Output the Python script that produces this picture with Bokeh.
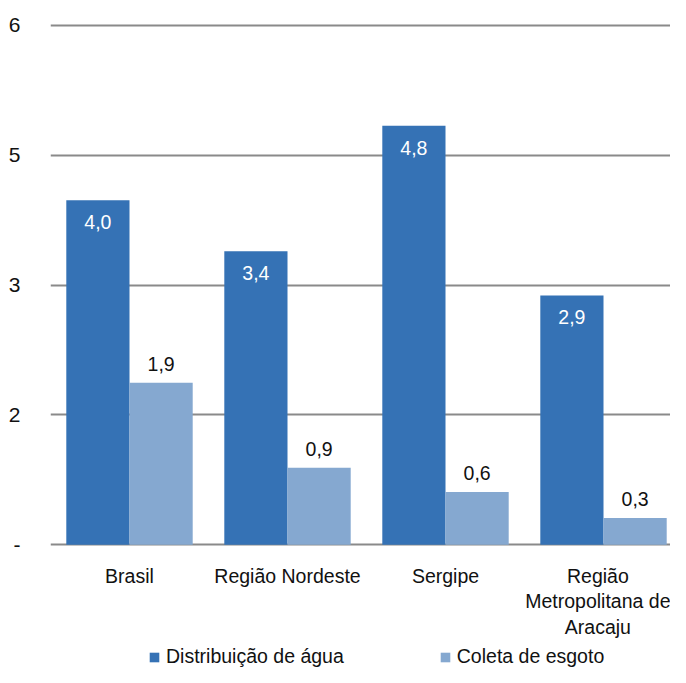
from bokeh.plotting import figure
from bokeh.layouts import column
from bokeh.models import Range1d, FixedTicker, Legend, LegendItem, ColumnDataSource
from bokeh.embed import file_html
from bokeh.resources import INLINE
from bokeh.core.properties import value
from bokeh.transform import dodge

# ---- data ----
categories = ["Brasil", "Região Nordeste", "Sergipe", "Região\nMetropolitana de\nAracaju"]
series_names = ["Distribuição de água", "Coleta de esgoto"]
agua = [3.98, 3.39, 4.84, 2.88]
esgoto = [1.87, 0.89, 0.61, 0.31]
y_ticks = [0, 1.5, 3, 4.5, 6]
y_tick_labels = ["-", "2", "3", "5", "6"]

DARK = "#3572B5"
LIGHT = "#85A8D0"
FONT = "Liberation Sans"
TXT = "#111111"

idx = list(range(len(categories)))
fmt = lambda v: f"{v:.1f}".replace(".", ",")
src_a = ColumnDataSource(dict(x=idx, top=agua, lab=[fmt(v) for v in agua]))
src_e = ColumnDataSource(dict(x=idx, top=esgoto, lab=[fmt(v) for v in esgoto]))

p = figure(width=670, height=640, x_range=Range1d(-0.5, 3.424), y_range=Range1d(-0.02, 6.02),
           output_backend="svg", toolbar_location=None,
           min_border_left=50, min_border_right=0, min_border_top=23, min_border_bottom=93)
p.outline_line_color = None
p.background_fill_color = "white"
p.border_fill_color = "white"

p.vbar(x=dodge("x", -0.2), top="top", bottom=0, width=0.4, source=src_a,
       fill_color=DARK, line_color=None)
p.vbar(x=dodge("x", 0.2), top="top", bottom=0, width=0.4, source=src_e,
       fill_color=LIGHT, line_color=None)

p.text(x=dodge("x", -0.2), y="top", text="lab", source=src_a, y_offset=22,
       text_align="center", text_baseline="middle", text_color="white",
       text_font=value(FONT), text_font_size="19.5px")
p.text(x=dodge("x", 0.2), y="top", text="lab", source=src_e, y_offset=-19,
       text_align="center", text_baseline="middle", text_color=TXT,
       text_font=value(FONT), text_font_size="19.5px")

# axes
p.xaxis.ticker = FixedTicker(ticks=idx)
p.xaxis.major_label_overrides = {i: c for i, c in zip(idx, categories)}
p.xaxis.axis_line_color = None
p.xaxis.major_tick_line_color = None
p.xaxis.minor_tick_line_color = None
p.xaxis.major_tick_out = 0
p.xaxis.major_label_standoff = 18
p.xaxis.major_label_text_font = FONT
p.xaxis.major_label_text_font_size = "19.5px"
p.xaxis.major_label_text_color = TXT
p.xaxis.major_label_text_line_height = 1.17

p.yaxis.ticker = FixedTicker(ticks=y_ticks)
p.yaxis.major_label_overrides = {t: l for t, l in zip(y_ticks, y_tick_labels)}
p.yaxis.axis_line_color = None
p.yaxis.major_tick_line_color = None
p.yaxis.minor_tick_line_color = None
p.yaxis.major_tick_out = 0
p.yaxis.major_label_standoff = 30
p.yaxis.major_label_text_font = FONT
p.yaxis.major_label_text_font_size = "21px"
p.yaxis.major_label_text_color = TXT

p.xgrid.grid_line_color = None
p.ygrid.ticker = FixedTicker(ticks=y_ticks)
p.ygrid.grid_line_color = "#8a8a8a"
p.ygrid.grid_line_width = 2

# ---- legend strip ----
lg = figure(width=670, height=27, x_range=Range1d(0, 620), y_range=Range1d(0, 27),
            output_backend="svg", toolbar_location=None,
            min_border_left=0, min_border_right=0, min_border_top=0, min_border_bottom=0)
lg.axis.visible = False
lg.grid.visible = False
lg.outline_line_color = None
# off-range placeholder renderers so the legend has swatches to draw
la = lg.vbar(x=[-1000], top=[0], width=1, fill_color=DARK, line_color=None)
le = lg.vbar(x=[-1000], top=[0], width=1, fill_color=LIGHT, line_color=None)
legend = Legend(items=[LegendItem(label=series_names[0], renderers=[la]),
                       LegendItem(label=series_names[1], renderers=[le])],
                location=(98, -1), orientation="horizontal",
                padding=0, margin=0, spacing=95, glyph_width=12, glyph_height=12,
                label_standoff=6, label_height=20,
                label_text_font=FONT, label_text_font_size="19.5px",
                label_text_color=TXT,
                border_line_color=None, background_fill_alpha=0)
lg.add_layout(legend)

open("out.html", "w").write(file_html(column(p, lg, spacing=0), INLINE))
